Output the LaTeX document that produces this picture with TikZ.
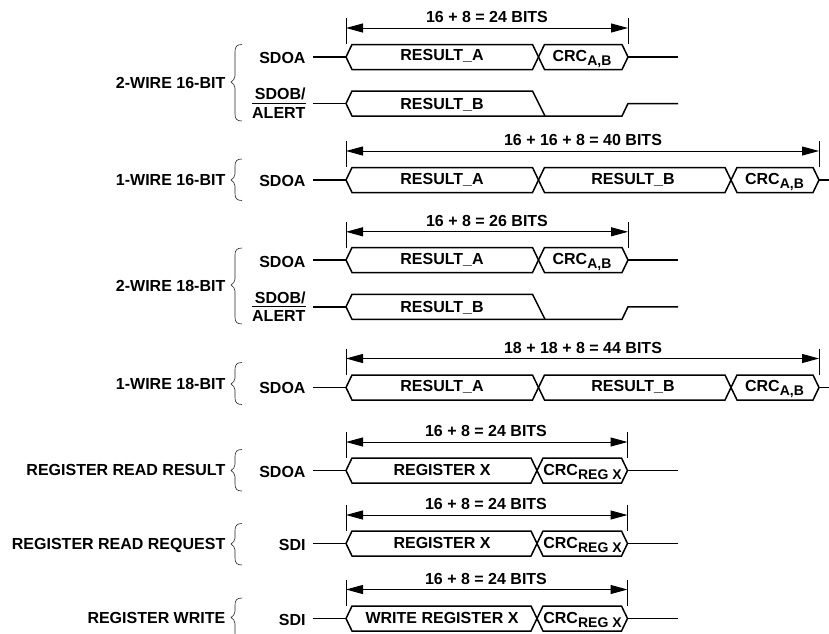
\documentclass[tikz,border=0pt]{standalone}
\usepackage{fontspec}
\setmainfont{Liberation Sans}
\usetikzlibrary{arrows.meta,calc}
\tikzset{
  txt/.style={font=\fontsize{16}{16}\selectfont\bfseries,inner sep=0pt,anchor=base},
  rtxt/.style={txt,anchor=base east},
  bus/.style={line width=1.5pt,line join=miter,black},
  lead/.style={line width=1.4pt},
  dimline/.style={line width=1pt,{Triangle[length=17pt,width=9pt]}-{Triangle[length=17pt,width=9pt]}},
  tick/.style={line width=1pt},
  curly/.style={line width=0.6pt,black!85},
}
\newcommand{\subt}[1]{\raisebox{-4.3pt}{\fontsize{14}{14}\selectfont #1}}
% hexagon: x1, x2, ymid
\newcommand{\hexa}[3]{\draw[bus] (#1,#3) -- (#1+6,#3-12.5) -- (#2-6,#3-12.5) -- (#2,#3) -- (#2-6,#3+12.5) -- (#1+6,#3+12.5) -- cycle;}
% dimension: id, x-right, y-arrow, text, xtext
\newcommand{\dimrow}[5]{%
  \coordinate (#1l) at (346,#3);
  \coordinate (#1r) at (#2,#3);
  \draw[tick] ($(#1l)+(0,-10)$) -- ($(#1l)+(0,16)$);
  \draw[tick] ($(#1r)+(0,-10)$) -- ($(#1r)+(0,16)$);
  \draw[dimline] (#1l) -- (#1r);
  \node[txt] (#1t) at (#5,#3-5.3) {#4};
}
% signal label and lead line: id, text, ymid, text baseline offset
\newcommand{\siglab}[4]{%
  \coordinate (#1tip) at (346,#3);
  \node[rtxt] (#1lab) at (305.7,#3+#4) {#2};
  \draw[lead] (313,#3) -- (#1tip);
}
% partly driven bus
\newcommand{\hexbusb}[1]{%
  \draw[bus] (346,#1) -- (352,#1-12.5) -- (532.5,#1-12.5) -- (545,#1+12.5);
  \draw[bus] (346,#1) -- (352,#1+12.5) -- (622,#1+12.5) -- (628,#1) -- (678,#1);
  \node[txt] at (442,#1+5.5) {RESULT\_B};
}
% SDOB/ALERT: id, ymid
\newcommand{\sdob}[2]{%
  \coordinate (#1tip) at (346,#2);
  \node[rtxt] (#1a) at (305.7,#2-3.8) {SDOB/};
  \node[rtxt] (#1b) at (305.7,#2+15) {ALERT};
  \draw[line width=1pt] (#1b.west |- #1tip) -- (#1b.east |- #1tip);
  \draw[lead] (313,#2) -- (#1tip);
  \hexbusb{#2}
}
% brace: y1, ytip, y2
\newcommand{\curly}[3]{%
  \draw[curly] (242,#1) .. controls (237,#1) and (235,#1+2) .. (235,#1+7)
    -- (235,#2-6) .. controls (235,#2-3) and (233,#2-1.5) .. (231,#2)
    .. controls (233,#2+1.5) and (235,#2+3) .. (235,#2+6)
    -- (235,#3-7) .. controls (235,#3-2) and (237,#3) .. (242,#3);
}
% group label: id, text, y of text centre
\newcommand{\grp}[3]{\node[rtxt] (#1) at (225.5,#3+5.75) {#2};}
\newcommand{\crcab}[2]{\node[txt] at (#1,#2+4) {CRC\subt{A,B}};}
\newcommand{\crcreg}[1]{\node[txt] at (582.5,#1+4.5) {CRC\subt{REG X}};}
\newcommand{\twopart}[2]{%
  \hexa{346}{538.5}{#1}\hexa{538.5}{628}{#1}
  \node[txt] at (442,#1+#2) {RESULT\_A};
  \crcab{582}{#1}
  \draw[lead] (628,#1) -- (678,#1);
}
\newcommand{\threepart}[2]{%
  \hexa{346}{538.5}{#1}\hexa{538.5}{731}{#1}\hexa{731}{819}{#1}
  \node[txt] at (442,#1+#2) {RESULT\_A};
  \node[txt] at (633,#1+#2) {RESULT\_B};
  \crcab{774.5}{#1}
  \draw[lead] (819,#1) -- (829,#1);
}
\newcommand{\regbus}[2]{%
  \hexa{346}{537}{#1}\hexa{537}{627.5}{#1}
  \node[txt] at (442,#1+5.2) {#2};
  \crcreg{#1}
  \draw[lead] (627.5,#1) -- (678,#1);
}
\begin{document}
\begin{tikzpicture}[x=1pt,y=-1pt]
\useasboundingbox (0,0) rectangle (829,633);
% 2-wire 16
\dimrow{d1}{628}{28}{16 + 8 = 24 BITS}{487}
\siglab{a1}{SDOA}{57}{6}
\twopart{57}{3.7}
\sdob{b1}{103.5}
\curly{44.5}{82}{121}
\grp{g1}{2-WIRE 16-BIT}{82.7}
% 1-wire 16
\dimrow{d2}{819}{151}{16 + 16 + 8 = 40 BITS}{583}
\siglab{a2}{SDOA}{180}{6}
\threepart{180}{4}
\curly{159}{180}{200.5}
\grp{g2}{1-WIRE 16-BIT}{180}
% 2-wire 18
\dimrow{d3}{628}{231.8}{16 + 8 = 26 BITS}{487}
\siglab{a3}{SDOA}{260}{7.4}
\twopart{260}{4.8}
\sdob{b3}{306.8}
\curly{248}{285}{324}
\grp{g3}{2-WIRE 18-BIT}{286}
% 1-wire 18
\dimrow{d4}{819}{358.5}{18 + 18 + 8 = 44 BITS}{583}
\siglab{a4}{SDOA}{387.5}{5.5}
\threepart{387.5}{3.5}
\curly{362.5}{384}{404.5}
\grp{g4}{1-WIRE 18-BIT}{384}
% register read result
\dimrow{d5}{627.5}{442}{16 + 8 = 24 BITS}{486}
\siglab{a5}{SDOA}{470.5}{7}
\regbus{470.5}{REGISTER X}
\curly{449.5}{470.5}{491}
\grp{g5}{REGISTER READ RESULT}{470}
% register read request
\dimrow{d6}{627.5}{515}{16 + 8 = 24 BITS}{486}
\siglab{a6}{SDI}{543.5}{7.2}
\regbus{543.5}{REGISTER X}
\curly{523.5}{544}{565}
\grp{g6}{REGISTER READ REQUEST}{543.3}
% register write
\dimrow{d7}{627.5}{589.5}{16 + 8 = 24 BITS}{486}
\siglab{a7}{SDI}{618.5}{7.2}
\regbus{618.5}{WRITE REGISTER X}
\curly{598}{617.5}{640}
\grp{g7}{REGISTER WRITE}{617.3}
\end{tikzpicture}
\end{document}
